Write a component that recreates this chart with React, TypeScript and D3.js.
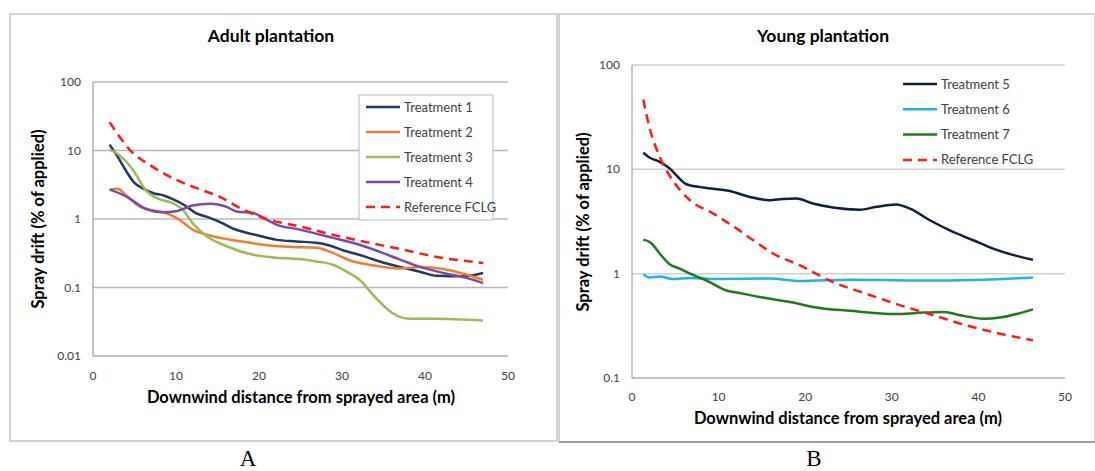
import React from 'react';
import * as d3 from 'd3';

// distances (m) and drift (% of applied)
const t1X = [2, 3, 4, 5, 6, 7.2, 8.5, 9.6, 11, 12.4, 14, 15.5, 16.9, 18.5, 20, 22, 24.5, 26.9, 28.5, 30.1, 32.5, 35, 37, 39.4, 41.4, 43, 44.6, 47];
const t1Y = [12.2, 8, 5, 3.36, 2.8, 2.4, 2.2, 1.95, 1.6, 1.22, 1.05, 0.88, 0.72, 0.63, 0.57, 0.5, 0.47, 0.45, 0.41, 0.35, 0.29, 0.23, 0.2, 0.17, 0.148, 0.146, 0.146, 0.163];

const t2X = [2, 3, 4, 5.6, 6.8, 8.8, 10.4, 12, 13.7, 16.1, 18.9, 21.3, 24.1, 26.9, 28.9, 30.9, 33.3, 37, 39.4, 42.2, 44.5, 47];
const t2Y = [2.68, 2.77, 2.2, 1.53, 1.37, 1.22, 0.98, 0.7, 0.59, 0.51, 0.45, 0.41, 0.39, 0.38, 0.32, 0.25, 0.215, 0.19, 0.2, 0.186, 0.16, 0.13];

const t3X = [2, 2.8, 4.8, 6.4, 8, 9.6, 10.8, 12, 13.7, 16.1, 19.3, 21.7, 24.9, 26.9, 28.9, 30.5, 32.1, 34.1, 36.1, 38.2, 41, 47];
const t3Y = [10.3, 9.2, 5.25, 2.6, 1.95, 1.71, 1.37, 0.87, 0.56, 0.4, 0.3, 0.275, 0.26, 0.24, 0.215, 0.172, 0.13, 0.07, 0.042, 0.035, 0.035, 0.033];

const t4X = [2, 4, 6.4, 8.4, 10, 12, 14.1, 16.1, 17.3, 19.3, 20.9, 22.1, 24.9, 28.9, 32.1, 34.9, 37, 39.4, 42.2, 45, 47];
const t4Y = [2.68, 2.14, 1.4, 1.25, 1.3, 1.57, 1.67, 1.5, 1.29, 1.22, 0.98, 0.83, 0.7, 0.53, 0.42, 0.32, 0.255, 0.2, 0.163, 0.138, 0.116];

const refAX = [2, 4.8, 6.8, 10, 13.3, 15.3, 17.7, 20.9, 24.9, 28.9, 32.9, 37, 41, 47];
const refAY = [25.8, 9.2, 6.2, 3.75, 2.6, 2.1, 1.45, 1.0, 0.78, 0.59, 0.46, 0.365, 0.285, 0.228];

const t5X = [1.3, 2, 3.2, 4.35, 5.1, 6.3, 8.2, 11.3, 13.6, 15.9, 17.4, 19, 20.9, 23.2, 26.3, 28.2, 30.5, 32.1, 34.4, 36.7, 39.4, 41.7, 44.4, 46.3];
const t5Y = [14.4, 13, 11.8, 10.2, 8.8, 7.2, 6.7, 6.2, 5.44, 5.05, 5.2, 5.24, 4.7, 4.3, 4.1, 4.37, 4.6, 4.2, 3.25, 2.6, 2.09, 1.74, 1.48, 1.36];

const t6X = [1.3, 2, 3.2, 4.7, 6.7, 9.7, 15.9, 19.4, 25.2, 32.9, 40.6, 46.3];
const t6Y = [0.98, 0.92, 0.94, 0.89, 0.91, 0.89, 0.9, 0.85, 0.876, 0.86, 0.876, 0.92];

const t7X = [1.3, 2.2, 3.2, 4.35, 5.5, 6.7, 8.6, 10.9, 12.1, 15.1, 19, 20.9, 25.2, 30.5, 32.9, 36, 37.9, 40.6, 42.5, 46.3];
const t7Y = [2.12, 1.97, 1.56, 1.23, 1.12, 1.0, 0.86, 0.69, 0.66, 0.59, 0.52, 0.48, 0.44, 0.41, 0.42, 0.43, 0.4, 0.37, 0.38, 0.455];

const refBX = [1.3, 2, 3.2, 4.7, 6.7, 9.4, 12.1, 14, 16.3, 19.4, 23.2, 27.1, 30.9, 34.8, 38.6, 42.5, 46.3];
const refBY = [46.6, 25.5, 13.2, 7.86, 5.05, 3.76, 2.7, 2.09, 1.56, 1.2, 0.83, 0.64, 0.5, 0.4, 0.32, 0.266, 0.23];

const xTicks = [0, 10, 20, 30, 40, 50];
const yTicksA = [0.01, 0.1, 1, 10, 100];
const yTicksB = [0.1, 1, 10, 100];
const legendA = ['Treatment 1', 'Treatment 2', 'Treatment 3', 'Treatment 4', 'Reference FCLG'];
const legendB = ['Treatment 5', 'Treatment 6', 'Treatment 7', 'Reference FCLG'];

const FONT = 'Lato, "Open Sans", sans-serif';

type Series = { xs: number[]; ys: number[]; color: string; dash?: string };

const zip = (xs: number[], ys: number[]) => xs.map((x, i) => [x, ys[i]] as [number, number]);

function Panel(props: {
  frame: [number, number, number, number];
  left: number; right: number; top: number; bottom: number;
  yMin: number;
  yTicks: number[];
  title: string; titleX: number;
  series: Series[];
  labels: string[];
  legend: { x: number; y: number; gap: number; box?: [number, number, number, number] };
  xLabelY: number; xTitleY: number; xTitleX: number; yTitleX: number; yTitleY: number;
  grid: string;
  letter: string; letterX: number;
  bottomBorder: string;
}) {
  const p = props;
  const x = d3.scaleLinear().domain([0, 50]).range([p.left, p.right]);
  const y = d3.scaleLog().domain([p.yMin, 100]).range([p.bottom, p.top]);
  const line = d3.line<[number, number]>().x(d => x(d[0])).y(d => y(d[1])).curve(d3.curveMonotoneX);
  const [fx, fy, fw, fh] = p.frame;
  return (
    <g>
      <rect x={fx} y={fy} width={fw} height={fh} fill="#fff" stroke="#a6a6a6" strokeWidth={1} />
      <line x1={fx} x2={fx + fw} y1={fy + fh} y2={fy + fh} stroke={p.bottomBorder} strokeWidth={1.5} />
      <text x={p.titleX} y={42} textAnchor="middle" fontFamily={FONT} fontWeight={700} fontSize={17.5} fill="#000">{p.title}</text>
      {p.yTicks.slice(1).map(t => (
        <line key={t} x1={p.left} x2={p.right} y1={y(t)} y2={y(t)} stroke={p.grid} strokeWidth={1.5} />
      ))}
      <line x1={p.left} x2={p.left} y1={p.top} y2={p.bottom} stroke="#b0b0b0" strokeWidth={1.5} />
      <line x1={p.left} x2={p.right} y1={p.bottom} y2={p.bottom} stroke="#b0b0b0" strokeWidth={1.5} />
      {p.yTicks.map(t => (
        <text key={t} x={p.left - 12} y={y(t) + 4} textAnchor="end" fontFamily={FONT} fontSize={12} fill="#404040">{String(t)}</text>
      ))}
      {xTicks.map(t => (
        <text key={t} x={x(t)} y={p.xLabelY + 4.5} textAnchor="middle" fontFamily={FONT} fontSize={12} fill="#404040">{t}</text>
      ))}
      <text x={p.xTitleX} y={p.xTitleY + 5.5} textAnchor="middle" fontFamily={FONT} fontWeight={700} fontSize={16.5} fill="#000">Downwind distance from sprayed area (m)</text>
      <text transform={`translate(${p.yTitleX + 6},${p.yTitleY}) rotate(-90)`} textAnchor="middle" fontFamily={FONT} fontWeight={700} fontSize={16.5} fill="#000">Spray drift (% of applied)</text>
      {p.legend.box && (
        <rect x={p.legend.box[0]} y={p.legend.box[1]} width={p.legend.box[2]} height={p.legend.box[3]} fill="#fff" stroke="#a9bcd6" strokeWidth={1} />
      )}
      {p.series.map((s, i) => (
        <path key={i} d={line(zip(s.xs, s.ys)) || ''} fill="none" stroke={s.color} strokeWidth={2.5} strokeDasharray={s.dash} />
      ))}
      {p.labels.map((l, i) => {
        const s = p.series[i];
        const ly = p.legend.y + i * p.legend.gap;
        return (
          <g key={l}>
            <line x1={p.legend.x} x2={p.legend.x + 34} y1={ly} y2={ly} stroke={s.color} strokeWidth={2.5} strokeDasharray={s.dash} />
            <text x={p.legend.x + 38} y={ly + 4.5} fontFamily={FONT} fontSize={13} fill="#404040">{l}</text>
          </g>
        );
      })}
      <text x={p.letterX} y={466} textAnchor="middle" fontFamily='"Liberation Serif", "DejaVu Serif", serif' fontSize={23} fill="#000">{p.letter}</text>
    </g>
  );
}

export default function App() {
  const seriesA: Series[] = [
    { xs: t1X, ys: t1Y, color: '#1f3864' },
    { xs: t2X, ys: t2Y, color: '#ed7d31' },
    { xs: t3X, ys: t3Y, color: '#9bbb59' },
    { xs: t4X, ys: t4Y, color: '#7a4aa6' },
    { xs: refAX, ys: refAY, color: '#ff1a1a', dash: '9 6' },
  ];
  const seriesB: Series[] = [
    { xs: t5X, ys: t5Y, color: '#10203f' },
    { xs: t6X, ys: t6Y, color: '#1eb0f0' },
    { xs: t7X, ys: t7Y, color: '#1e7a1e' },
    { xs: refBX, ys: refBY, color: '#ff1a1a', dash: '9 6' },
  ];
  return (
    <svg width={1095} height={471} style={{ position: 'absolute', left: 0, top: 0, background: '#fff' }}>
      <Panel
        frame={[10, 14, 547, 427]}
        left={93} right={508} top={82} bottom={356}
        yMin={0.01} yTicks={yTicksA}
        title="Adult plantation" titleX={271}
        series={seriesA} labels={legendA}
        legend={{ x: 366, y: 107, gap: 25, box: [359, 95, 134, 125] }}
        xLabelY={375} xTitleY={397} xTitleX={301} yTitleX={38} yTitleY={219}
        grid="#b8b8b8"
        letter="A" letterX={248}
        bottomBorder="#d0d0d0"
      />
      <Panel
        frame={[559, 14, 536, 428]}
        left={632} right={1065} top={65} bottom={378}
        yMin={0.1} yTicks={yTicksB}
        title="Young plantation" titleX={823}
        series={seriesB} labels={legendB}
        legend={{ x: 903, y: 84, gap: 25.3 }}
        xLabelY={396} xTitleY={418} xTitleX={848} yTitleX={583} yTitleY={222}
        grid="#d0d0d0"
        letter="B" letterX={814}
        bottomBorder="#8c8c8c"
      />
    </svg>
  );
}
